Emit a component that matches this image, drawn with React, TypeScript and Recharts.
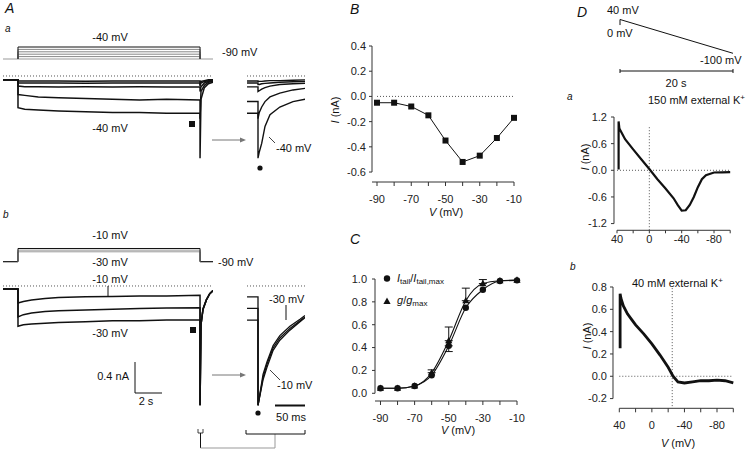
import React from 'react';
import { LineChart, Line, XAxis, YAxis, ReferenceLine, ErrorBar } from 'recharts';

const INK = '#111';
const AXIS = '#333';
const tickStyle = { fontSize: 11, fill: '#222' };

// ---------- A: voltage protocols (mV) ----------
const HOLD_MV = -90;
const STEP_ON = 0;
const STEP_OFF = 13.48;
const stepsA = [-80, -70, -60, -50, -40];
const stepsB = [-30, -20, -10];

// ---------- A a: whole sweeps, time (s) / current (nA) ----------
const sweepTimeA = [-1.11, 0, 0, 0.5, 1.5, 3, 5, 7, 9, 11, 13.48, 13.48, 13.55, 13.8, 14.1, 14.44];
const sweepA80 = [-0.05, -0.05, -0.065, -0.065, -0.066, -0.065, -0.067, -0.065, -0.066, -0.065, -0.065, -0.09, -0.07, -0.06, -0.05, -0.05];
const sweepA70 = [-0.05, -0.05, -0.09, -0.09, -0.092, -0.09, -0.093, -0.09, -0.091, -0.09, -0.09, -0.13, -0.09, -0.07, -0.06, -0.05];
const sweepA60 = [-0.05, -0.05, -0.13, -0.14, -0.14, -0.142, -0.14, -0.143, -0.14, -0.142, -0.14, -0.2, -0.14, -0.09, -0.07, -0.06];
const sweepA50 = [-0.05, -0.05, -0.24, -0.25, -0.27, -0.28, -0.29, -0.3, -0.31, -0.3, -0.31, -0.55, -0.2, -0.12, -0.08, -0.07];
const sweepA40 = [-0.05, -0.05, -0.41, -0.43, -0.44, -0.45, -0.46, -0.47, -0.47, -0.48, -0.48, -1.06, -0.3, -0.15, -0.1, -0.08];
const sweepsA = [sweepA80, sweepA70, sweepA60, sweepA50, sweepA40];

// ---------- A a: tail inset, time (ms) / current (nA) ----------
const tailTimeA = [-19.6, 0, 0, 2.3, 6.6, 12.5, 21.4, 39, 62.5, 84];
const tailA80 = [-0.065, -0.065, -0.07, -0.07, -0.07, -0.065, -0.06, -0.06, -0.055, -0.05];
const tailA70 = [-0.09, -0.09, -0.11, -0.11, -0.1, -0.095, -0.09, -0.08, -0.075, -0.07];
const tailA60 = [-0.14, -0.14, -0.2, -0.19, -0.17, -0.15, -0.13, -0.11, -0.1, -0.094];
const tailA50 = [-0.33, -0.33, -0.55, -0.47, -0.4, -0.33, -0.27, -0.22, -0.18, -0.16];
const tailA40 = [-0.48, -0.48, -1.06, -0.98, -0.87, -0.65, -0.5, -0.4, -0.33, -0.3];
const tailsA = [tailA80, tailA70, tailA60, tailA50, tailA40];

// ---------- A b: whole sweeps ----------
const sweepTimeB = [-1.11, 0, 0, 0.4, 1, 2, 3, 5, 7, 9, 11, 13.48, 13.48, 13.55, 13.7, 13.95, 14.2, 14.44];
const sweepB10 = [-0.04, -0.04, -0.22, -0.2, -0.18, -0.16, -0.15, -0.14, -0.135, -0.13, -0.13, -0.12, -1.54, -0.5, -0.3, -0.18, -0.1, -0.06];
const sweepB20 = [-0.04, -0.04, -0.4, -0.37, -0.35, -0.33, -0.32, -0.31, -0.3, -0.29, -0.285, -0.28, -1.54, -0.5, -0.3, -0.18, -0.1, -0.06];
const sweepB30 = [-0.04, -0.04, -0.52, -0.5, -0.49, -0.48, -0.47, -0.46, -0.45, -0.45, -0.44, -0.44, -1.54, -0.5, -0.3, -0.18, -0.1, -0.06];
const sweepsB = [sweepB10, sweepB20, sweepB30];

// ---------- A b: tail inset ----------
const tailTimeB = [-19.6, -1, 0, 0, 9, 16, 27, 39, 57, 75, 84];
const tailB10 = [-0.14, -0.14, -0.14, -1.54, -1.21, -1.05, -0.83, -0.7, -0.57, -0.46, -0.41];
const tailB20 = [-0.29, -0.29, -0.29, -1.54, -1.18, -1.01, -0.8, -0.67, -0.55, -0.45, -0.4];
const tailB30 = [-0.44, -0.44, -0.44, -1.54, -1.14, -0.98, -0.77, -0.64, -0.52, -0.43, -0.38];
const tailsB = [tailB10, tailB20, tailB30];

// ---------- B: I-V ----------
const ivVolts = [-90, -80, -70, -60, -50, -40, -30, -20, -10];
const ivCurrent = [-0.05, -0.05, -0.08, -0.15, -0.35, -0.52, -0.47, -0.33, -0.17];

// ---------- C: activation ----------
const actVolts = [-90, -80, -70, -60, -50, -40, -30, -20, -10];
const tailNorm = [0.044, 0.044, 0.064, 0.158, 0.415, 0.748, 0.906, 0.982, 0.988];
const tailErrDown = [0, 0, 0, 0, 0.05, 0, 0, 0, 0];
const gNorm = [0.044, 0.044, 0.064, 0.18, 0.46, 0.81, 0.96, 0.985, 0.99];
const gErrUp = [0, 0, 0, 0.025, 0.12, 0.11, 0.035, 0, 0];

// ---------- D: ramp ----------
const rampTime = [0, 0, 20];
const rampMv = [17, 40, -100];
const rampVa = [38, 38, 37, 30, 20, 10, 0, -10, -20, -30, -35, -40, -45, -50, -55, -60, -65, -70, -80, -90, -100];
const rampIa = [0.02, 1.1, 0.94, 0.7, 0.47, 0.25, 0.03, -0.2, -0.41, -0.63, -0.78, -0.91, -0.9, -0.78, -0.6, -0.38, -0.2, -0.11, -0.05, -0.045, -0.04];
const rampVb = [39, 39, 38, 35, 30, 25, 20, 10, 0, -10, -20, -26, -32, -40, -50, -60, -70, -80, -90, -100];
const rampIb = [0.25, 0.74, 0.7, 0.63, 0.56, 0.51, 0.46, 0.38, 0.29, 0.19, 0.08, 0.0, -0.05, -0.06, -0.05, -0.04, -0.04, -0.035, -0.04, -0.06];

const rows = (xs: number[], ys: number[]) => xs.map((x, i) => ({ t: x, y: ys[i] }));
const stepRows = (v: number) => [
  { t: STEP_ON, y: HOLD_MV }, { t: STEP_ON, y: v }, { t: STEP_OFF, y: v }, { t: STEP_OFF, y: HOLD_MV },
];

const A_T: [number, number] = [-1.11, 14.44];
const INSET_T: [number, number] = [-19.64, 83.93];

function TraceBox({ left, top, width, height, xDomain, yDomain, children }: any) {
  return (
    <div style={{ position: 'absolute', left, top }}>
      <LineChart width={width} height={height} margin={{ top: 0, right: 0, bottom: 0, left: 0 }}>
        <XAxis type="number" dataKey="t" domain={xDomain} hide allowDataOverflow />
        <YAxis type="number" dataKey="y" domain={yDomain} hide allowDataOverflow />
        {children}
      </LineChart>
    </div>
  );
}

const PAD = { l: 40, t: 6, r: 10, b: 30 };
function Plot({ x0, y0, x1, y1, children }: any) {
  return (
    <div style={{ position: 'absolute', left: x0 - PAD.l, top: y0 - PAD.t }}>
      <LineChart width={x1 - x0 + PAD.l + PAD.r} height={y1 - y0 + PAD.t + PAD.b}
        margin={{ top: PAD.t, right: PAD.r, left: 0, bottom: 0 }}>
        {children}
      </LineChart>
    </div>
  );
}

const trace = (key: string, data: any[], color = INK, w = 1.3) => (
  <Line key={key} data={data} dataKey="y" type="linear" stroke={color} strokeWidth={w}
    dot={false} isAnimationActive={false} />
);

const squareDot = (p: any) => <rect key={`s${p.index}`} x={p.cx - 3} y={p.cy - 3} width={6} height={6} fill={INK} />;
const circleDot = (p: any) => <circle key={`c${p.index}`} cx={p.cx} cy={p.cy} r={3.2} fill={INK} />;
const triDot = (p: any) => (
  <polygon key={`t${p.index}`} fill={INK}
    points={`${p.cx},${p.cy - 3.8} ${p.cx + 3.6},${p.cy + 2.6} ${p.cx - 3.6},${p.cy + 2.6}`} />
);

const dotted = { stroke: '#555', strokeDasharray: '1 2', strokeWidth: 1 };
const oddTens = (v: number) => (v % 20 === -10 ? String(v) : '');
const every40 = (v: number) => (v % 40 === 0 ? String(v) : '');

const Arrow = ({ x1, x2, y }: any) => (
  <g stroke="#777" fill="#777">
    <line x1={x1} y1={y} x2={x2 - 4} y2={y} strokeWidth={1} />
    <polygon points={`${x2},${y} ${x2 - 6},${y - 2.5} ${x2 - 6},${y + 2.5}`} stroke="none" />
  </g>
);

const YLab = ({ x, y }: any) => (
  <text transform={`translate(${x},${y}) rotate(-90)`} textAnchor="middle" dominantBaseline="middle" fontSize={11}>
    <tspan fontStyle="italic">I</tspan> (nA)
  </text>
);
const XLab = ({ x, y }: any) => (
  <text x={x} y={y} textAnchor="middle" fontSize={11}>
    <tspan fontStyle="italic">V</tspan> (mV)
  </text>
);

export default function App() {
  const cTail = actVolts.map((v, i) => ({ t: v, y: tailNorm[i], err: tailErrDown[i] > 0 ? [tailErrDown[i], 0] : undefined }));
  const cG = actVolts.map((v, i) => ({ t: v, y: gNorm[i], err: gErrUp[i] > 0 ? [0, gErrUp[i]] : undefined }));

  return (
    <div style={{ position: 'absolute', left: 0, top: 0, width: 750, height: 453, background: '#fff', overflow: 'hidden',
      fontFamily: "'Liberation Sans', Arial, Helvetica, sans-serif", color: '#111' }}>

      {/* A a protocol */}
      <TraceBox left={3} top={40} width={210} height={25} xDomain={A_T} yDomain={[-115, -10.83]}>
        {trace('base', rows([A_T[0], A_T[1]], [HOLD_MV, HOLD_MV]), '#999', 1.2)}
        {stepsA.map((v, k) => trace(`st${v}`, stepRows(v), k === stepsA.length - 1 ? INK : '#888', 1))}
      </TraceBox>
      {/* A a sweeps */}
      <TraceBox left={3} top={68} width={210} height={97} xDomain={A_T} yDomain={[-1.148, 0.103]}>
        <ReferenceLine y={0} {...dotted} />
        {sweepsA.map((s, k) => trace(`sa${k}`, rows(sweepTimeA, s), INK, 1.5))}
      </TraceBox>
      <TraceBox left={247} top={68} width={58} height={97} xDomain={INSET_T} yDomain={[-1.148, 0.103]}>
        <ReferenceLine y={0} {...dotted} />
        {tailsA.map((s, k) => trace(`ta${k}`, rows(tailTimeA, s), INK, 1.4))}
      </TraceBox>

      {/* A b protocol */}
      <TraceBox left={3} top={240} width={210} height={28} xDomain={A_T} yDomain={[-128.2, 41.5]}>
        {trace('baseb', rows([A_T[0], STEP_ON], [HOLD_MV, HOLD_MV]), INK, 1.2)}
        {trace('baseb2', rows([STEP_OFF, A_T[1]], [HOLD_MV, HOLD_MV]), INK, 1.2)}
        {stepsB.map((v, k) => trace(`sb${v}`, stepRows(v), k === stepsB.length - 1 ? INK : '#999', 1))}
      </TraceBox>
      {/* A b sweeps */}
      <TraceBox left={3} top={278} width={210} height={135} xDomain={A_T} yDomain={[-1.639, 0.103]}>
        <ReferenceLine y={0} {...dotted} />
        {sweepsB.map((s, k) => trace(`sb${k}`, rows(sweepTimeB, s), INK, 1.5))}
      </TraceBox>
      <TraceBox left={247} top={278} width={58} height={135} xDomain={INSET_T} yDomain={[-1.639, 0.103]}>
        <ReferenceLine y={0} {...dotted} />
        {tailsB.map((s, k) => trace(`tb${k}`, rows(tailTimeB, s), INK, 1.3))}
      </TraceBox>

      {/* B: I-V */}
      <Plot x0={372} y0={46} x1={514} y1={182}>
        <XAxis type="number" dataKey="t" domain={[-92.92, -10]} height={PAD.b}
          ticks={[-90, -80, -70, -60, -50, -40, -30, -20, -10]} interval={0} tickFormatter={oddTens}
          tick={tickStyle} tickSize={4} tickMargin={9} axisLine={{ stroke: AXIS }} tickLine={{ stroke: AXIS }} />
        <YAxis type="number" dataKey="y" domain={[-0.679, 0.4]} width={PAD.l}
          ticks={[-0.6, -0.4, -0.2, 0, 0.2, 0.4]} interval={0} tickFormatter={(v: number) => v.toFixed(1)}
          tick={tickStyle} tickSize={3} tickMargin={3} axisLine={false} tickLine={{ stroke: AXIS }} />
        <ReferenceLine segment={[{ x: -92.92, y: -0.6 }, { x: -92.92, y: 0.4 }]} stroke={AXIS} ifOverflow="visible" />
        <ReferenceLine segment={[{ x: -90, y: 0 }, { x: -10, y: 0 }]} {...dotted} ifOverflow="visible" />
        <Line data={rows(ivVolts, ivCurrent)} dataKey="y" type="linear" stroke={INK} strokeWidth={1}
          dot={squareDot} isAnimationActive={false} />
      </Plot>

      {/* C: activation */}
      <Plot x0={375} y0={279} x1={517} y1={401}>
        <XAxis type="number" dataKey="t" domain={[-93.22, -10]} height={PAD.b}
          ticks={[-90, -80, -70, -60, -50, -40, -30, -20, -10]} interval={0} tickFormatter={oddTens}
          tick={tickStyle} tickSize={4} tickMargin={9} axisLine={{ stroke: AXIS }} tickLine={{ stroke: AXIS }} />
        <YAxis type="number" dataKey="y" domain={[-0.0675, 1.0]} width={PAD.l}
          ticks={[0, 0.2, 0.4, 0.6, 0.8, 1.0]} interval={0} tickFormatter={(v: number) => v.toFixed(1)}
          tick={tickStyle} tickSize={3} tickMargin={5} axisLine={false} tickLine={{ stroke: AXIS }} />
        <ReferenceLine segment={[{ x: -93.22, y: 0 }, { x: -93.22, y: 1.0 }]} stroke={AXIS} ifOverflow="visible" />
        <Line data={cG} dataKey="y" type="monotone" stroke={INK} strokeWidth={1.1} dot={triDot} isAnimationActive={false}>
          <ErrorBar dataKey="err" width={4} strokeWidth={1} stroke={INK} direction="y" />
        </Line>
        <Line data={cTail} dataKey="y" type="monotone" stroke={INK} strokeWidth={1.1} dot={circleDot} isAnimationActive={false}>
          <ErrorBar dataKey="err" width={4} strokeWidth={1} stroke={INK} direction="y" />
        </Line>
      </Plot>

      {/* D: ramp protocol */}
      <TraceBox left={610} top={10} width={130} height={50} xDomain={[-1.77, 21.24]} yDomain={[-127.8, 79.35]}>
        {trace('ramp', rows(rampTime, rampMv), INK, 1)}
      </TraceBox>

      {/* D a */}
      <Plot x0={614} y0={116.7} x1={730.2} y1={230}>
        <XAxis type="number" dataKey="t" domain={[-100, 43.7]} reversed height={PAD.b}
          ticks={[40, 20, 0, -20, -40, -60, -80, -100]} interval={0} tickFormatter={every40}
          tick={tickStyle} tickSize={3} tickMargin={2} axisLine={false} tickLine={{ stroke: AXIS }} />
        <YAxis type="number" dataKey="y" domain={[-1.351, 1.2]} width={PAD.l}
          ticks={[-1.2, -0.6, 0, 0.6, 1.2]} interval={0} tickFormatter={(v: number) => v.toFixed(1)}
          tick={tickStyle} tickSize={3} tickMargin={4} axisLine={false} tickLine={{ stroke: AXIS }} />
        <ReferenceLine segment={[{ x: 43.7, y: -1.2 }, { x: 43.7, y: 1.2 }]} stroke={AXIS} ifOverflow="visible" />
        <ReferenceLine segment={[{ x: 40, y: -1.351 }, { x: -100, y: -1.351 }]} stroke={AXIS} ifOverflow="visible" />
        <ReferenceLine segment={[{ x: 40, y: 0 }, { x: -100, y: 0 }]} {...dotted} ifOverflow="visible" />
        <ReferenceLine segment={[{ x: 0, y: 0.97 }, { x: 0, y: -1.351 }]} {...dotted} ifOverflow="visible" />
        <Line data={rows(rampVa, rampIa)} dataKey="y" type="linear" stroke={INK} strokeWidth={2.2}
          dot={false} isAnimationActive={false} />
      </Plot>

      {/* D b */}
      <Plot x0={613} y0={286.7} x1={733.3} y1={408}>
        <XAxis type="number" dataKey="t" domain={[-100, 47.74]} reversed height={PAD.b}
          ticks={[40, 20, 0, -20, -40, -60, -80, -100]} interval={0} tickFormatter={every40}
          tick={tickStyle} tickSize={4} tickMargin={9} axisLine={false} tickLine={{ stroke: AXIS }} />
        <YAxis type="number" dataKey="y" domain={[-0.287, 0.8]} width={PAD.l}
          ticks={[-0.2, 0, 0.2, 0.4, 0.6, 0.8]} interval={0} tickFormatter={(v: number) => v.toFixed(1)}
          tick={tickStyle} tickSize={3} tickMargin={3} axisLine={false} tickLine={{ stroke: AXIS }} />
        <ReferenceLine segment={[{ x: 47.74, y: -0.2 }, { x: 47.74, y: 0.8 }]} stroke={AXIS} ifOverflow="visible" />
        <ReferenceLine segment={[{ x: 40, y: -0.287 }, { x: -100, y: -0.287 }]} stroke={AXIS} ifOverflow="visible" />
        <ReferenceLine segment={[{ x: 40, y: 0 }, { x: -100, y: 0 }]} {...dotted} ifOverflow="visible" />
        <ReferenceLine segment={[{ x: -25, y: 0.79 }, { x: -25, y: -0.287 }]} {...dotted} ifOverflow="visible" />
        <Line data={rows(rampVb, rampIb)} dataKey="y" type="linear" stroke={INK} strokeWidth={2.8}
          dot={false} isAnimationActive={false} />
      </Plot>

      {/* annotations */}
      <svg width={750} height={453} style={{ position: 'absolute', left: 0, top: 0, pointerEvents: 'none' }}
        fontFamily="'Liberation Sans', Arial, Helvetica, sans-serif" fill="#111">
        {/* panel letters */}
        <text x={5} y={13} fontSize={14} fontStyle="italic">A</text>
        <text x={5} y={32} fontSize={10} fontStyle="italic">a</text>
        <text x={3} y={218} fontSize={10} fontStyle="italic">b</text>
        <text x={350} y={14} fontSize={14} fontStyle="italic">B</text>
        <text x={350} y={244} fontSize={14} fontStyle="italic">C</text>
        <text x={577} y={17} fontSize={14} fontStyle="italic">D</text>
        <text x={567} y={100} fontSize={10} fontStyle="italic">a</text>
        <text x={570} y={270} fontSize={10} fontStyle="italic">b</text>

        {/* A a */}
        <text x={110} y={41} fontSize={11} textAnchor="middle">-40 mV</text>
        <text x={222} y={56} fontSize={11}>-90 mV</text>
        <text x={110} y={132} fontSize={11} textAnchor="middle">-40 mV</text>
        <rect x={189} y={121} width={6} height={6} fill={INK} />
        <Arrow x1={212} x2={246} y={140} />
        <line x1={269} y1={137} x2={275} y2={143} stroke={INK} strokeWidth={0.8} />
        <text x={276} y={152} fontSize={11}>-40 mV</text>
        <circle cx={260} cy={168} r={2.6} fill={INK} />

        {/* A b */}
        <text x={110} y={239} fontSize={11} textAnchor="middle">-10 mV</text>
        <text x={110} y={266} fontSize={11} textAnchor="middle">-30 mV</text>
        <text x={218} y={266} fontSize={11}>-90 mV</text>
        <text x={110} y={283} fontSize={11} textAnchor="middle">-10 mV</text>
        <line x1={108} y1={286} x2={108} y2={297} stroke={INK} strokeWidth={1} />
        <text x={110} y={337} fontSize={11} textAnchor="middle">-30 mV</text>
        <rect x={190} y={327} width={6} height={6} fill={INK} />
        <line x1={135} y1={362} x2={135} y2={393} stroke={INK} strokeWidth={1} />
        <line x1={135} y1={393} x2={162} y2={393} stroke={INK} strokeWidth={1} />
        <text x={129} y={380} fontSize={11} textAnchor="end">0.4 nA</text>
        <text x={146} y={405} fontSize={11} textAnchor="middle">2 s</text>
        <Arrow x1={212} x2={246} y={375} />
        <text x={269} y={303} fontSize={11}>-30 mV</text>
        <line x1={286} y1={305} x2={286} y2={320} stroke={INK} strokeWidth={1} />
        <line x1={270} y1={370} x2={280} y2={380} stroke={INK} strokeWidth={0.8} />
        <text x={277} y={389} fontSize={11}>-10 mV</text>
        <line x1={275} y1={405.5} x2={305} y2={405.5} stroke={INK} strokeWidth={2} />
        <text x={291} y={421} fontSize={11} textAnchor="middle">50 ms</text>
        <circle cx={258} cy={413} r={2.6} fill={INK} />
        <polyline points="198,429 198,433 203,433 203,429" fill="none" stroke={INK} strokeWidth={0.8} />
        <line x1={200.5} y1={433} x2={200.5} y2={448} stroke={INK} strokeWidth={1} />
        <line x1={200.5} y1={448} x2={275} y2={448} stroke="#999" strokeWidth={1} />
        <line x1={275} y1={448} x2={275} y2={434} stroke="#999" strokeWidth={1} />
        <polyline points="246,430 246,434 305,434 305,430" fill="none" stroke={INK} strokeWidth={1} />

        {/* B / C axis labels */}
        <YLab x={336} y={110} />
        <XLab x={446} y={216} />
        <XLab x={458} y={434} />

        {/* C legend */}
        <circle cx={387} cy={278.5} r={3.2} fill={INK} />
        <text x={397} y={282} fontSize={11}>
          <tspan fontStyle="italic">I</tspan><tspan fontSize={8} dy={2}>tail</tspan>
          <tspan dy={-2}>/</tspan><tspan fontStyle="italic">I</tspan><tspan fontSize={8} dy={2}>tail,max</tspan>
        </text>
        <polygon points="387,297.5 390.6,304 383.4,304" fill={INK} />
        <text x={397} y={304} fontSize={11}>
          <tspan fontStyle="italic">g</tspan><tspan>/</tspan><tspan fontStyle="italic">g</tspan>
          <tspan fontSize={8} dy={2}>max</tspan>
        </text>

        {/* D protocol */}
        <text x={607} y={14} fontSize={11}>40 mV</text>
        <text x={607} y={37} fontSize={11}>0 mV</text>
        <text x={700} y={64} fontSize={11}>-100 mV</text>
        <line x1={620} y1={71} x2={733} y2={71} stroke={INK} strokeWidth={1} />
        <line x1={620} y1={69} x2={620} y2={73} stroke={INK} strokeWidth={1} />
        <line x1={733} y1={69} x2={733} y2={73} stroke={INK} strokeWidth={1} />
        <text x={676} y={87} fontSize={11} textAnchor="middle">20 s</text>

        {/* D a / b */}
        <text x={648} y={104} fontSize={11}>150 mM external K<tspan fontSize={8} dy={-4}>+</tspan></text>
        <YLab x={586} y={157} />
        <text x={632} y={287} fontSize={11}>40 mM external K<tspan fontSize={8} dy={-4}>+</tspan></text>
        <YLab x={588} y={336} />
        <XLab x={678} y={447} />
      </svg>
    </div>
  );
}
